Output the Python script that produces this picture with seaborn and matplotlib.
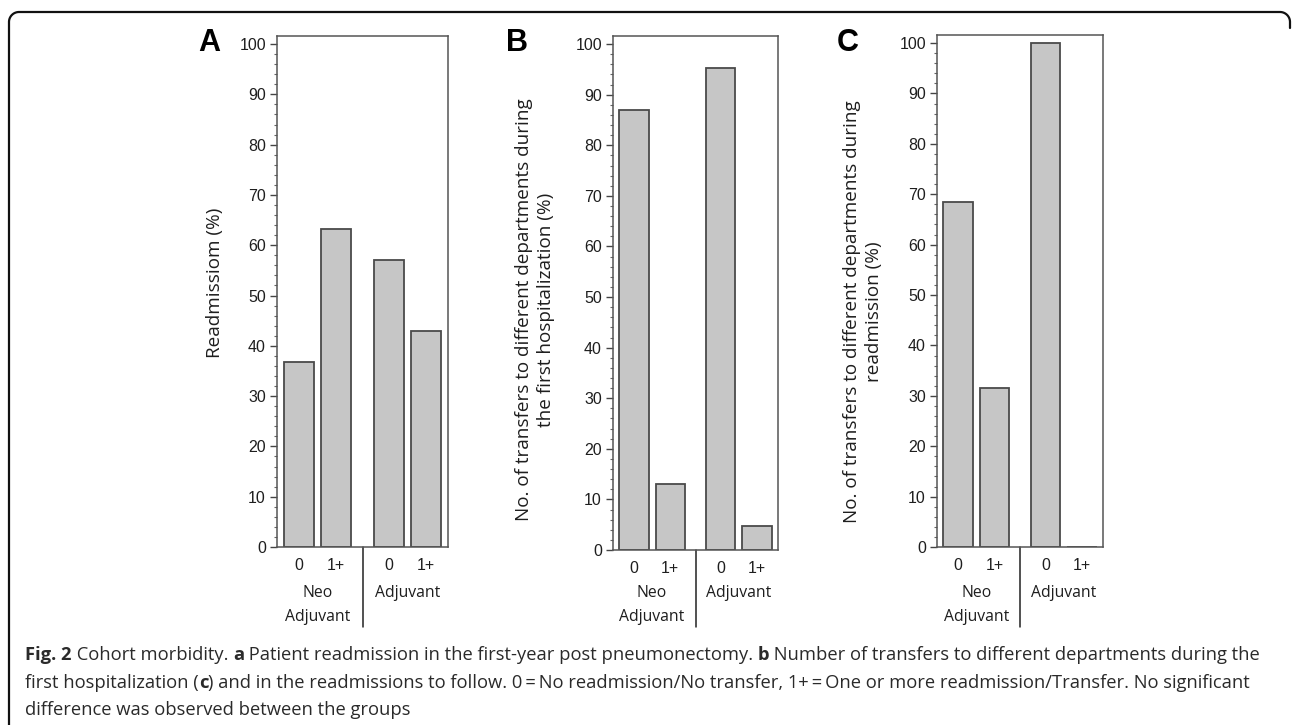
import numpy as np
import pandas as pd
import matplotlib
matplotlib.use("Agg")
import matplotlib.pyplot as plt
import matplotlib.transforms as mtransforms
from matplotlib.ticker import MultipleLocator, AutoMinorLocator
import seaborn as sns

sns.set_style('ticks')
plt.rcParams['font.family'] = ['Liberation Sans', 'DejaVu Sans']

# data (percent)
groups = ['Neo\nAdjuvant', 'Adjuvant']
levels = ['0', '1+']
readmission = [36.7, 63.3, 57.1, 42.9]
transfers_first = [87.0, 13.0, 95.2, 4.8]
transfers_readm = [68.4, 31.6, 100.0, 0.0]

panel_letters = ['A', 'B', 'C']
ylabels = ['Readmissiom (%)',
           'No. of transfers to different departments during\nthe first hospitalization (%)',
           'No. of transfers to different departments during\nreadmission (%)']
caption_lines = [
    [('Fig. 2', True), (' Cohort morbidity. ', False), ('a', True),
     (' Patient readmission in the first-year post pneumonectomy. ', False), ('b', True),
     (' Number of transfers to different departments during the', False)],
    [('first hospitalization (', False), ('c', True),
     (') and in the readmissions to follow. 0\u2009=\u2009No readmission/No transfer, 1+\u2009=\u2009One or more readmission/Transfer. No significant', False)],
    [('difference was observed between the groups', False)],
]

W, H = 1292, 725
fig = plt.figure(figsize=(W / 100, H / 100), dpi=100)

def rect(l, r, t, b):
    return [l / W, 1 - b / H, (r - l) / W, (b - t) / H]

axes_px = [(277, 448, 36, 547), (613, 778, 36, 550), (937, 1103, 35, 547)]
letter_px = [(209, 43), (517, 43), (848, 43)]
ylabel_px = [(215, 283), (535, 310), (863, 312)]

GAP = 2.4  # offset of second group on the x axis
xpos = [g * GAP + i for g in range(len(groups)) for i in range(len(levels))]
HUMAN = ['Open Sans', 'DejaVu Sans']
TXT = '#1e1e1e'

for k, vals in enumerate([readmission, transfers_first, transfers_readm]):
    ax = fig.add_axes(rect(*axes_px[k]))
    df = pd.DataFrame({'x': xpos, 'pct': vals})
    sns.barplot(data=df, x='x', y='pct', native_scale=True, width=0.81,
                color='#c6c6c6', saturation=1, edgecolor='#4a4a4a',
                linewidth=1.3, ax=ax, errorbar=None)
    ax.set_xlim(-0.58, xpos[-1] + 0.58)
    ax.set_ylim(0, 101.6)
    ax.yaxis.set_major_locator(MultipleLocator(10))
    ax.yaxis.set_minor_locator(AutoMinorLocator(5))
    ax.tick_params(axis='y', which='major', length=5, width=1, color='#444',
                   labelsize=11.5, labelcolor=TXT, pad=3)
    ax.tick_params(axis='y', which='minor', length=2.5, width=0.8, color='#666')
    ax.set_xticks(xpos, levels * len(groups))
    ax.tick_params(axis='x', length=0, labelsize=11.5, labelcolor=TXT, pad=8)
    for s in ax.spines.values():
        s.set_color('#555')
        s.set_linewidth(1.1)
    ax.set_xlabel('')
    ax.set_ylabel('')

    # group labels and separator below the axis
    tr = mtransforms.blended_transform_factory(ax.transData, fig.transFigure)
    for g, name in enumerate(groups):
        cx = g * GAP + 0.5
        for j, line in enumerate(name.split('\n')):
            ax.text(cx, 1 - (593 + 24 * j) / H, line, transform=tr, ha='center',
                    va='center', fontsize=11.3, family=HUMAN, color=TXT)
    sep = (xpos[1] + xpos[2]) / 2
    ax.plot([sep, sep], [1 - axes_px[k][3] / H, 1 - 627 / H], transform=tr,
            color='#222', lw=1.1, clip_on=False)

    lx, ly = letter_px[k]
    fig.text(lx / W, 1 - ly / H, panel_letters[k], fontsize=22, fontweight='bold',
             ha='center', va='center', color='black')
    yx, yy = ylabel_px[k]
    fig.text(yx / W, 1 - yy / H, ylabels[k], rotation=90, ha='center', va='center',
             fontsize=13.6, family=HUMAN, color=TXT, linespacing=1.3,
             multialignment='center')

# caption with bold pieces
renderer = fig.canvas.get_renderer()
for i, parts in enumerate(caption_lines):
    x = 25 / W
    y = 1 - (655 + 27.5 * i) / H
    for txt, bold in parts:
        t = fig.text(x, y, txt, fontsize=13.2, family=HUMAN, color='#2a2a2a',
                     fontweight='bold' if bold else 'normal', va='center', ha='left')
        x += t.get_window_extent(renderer).width / W

# border: left side, top edge with rounded corners
r = 10
th = np.linspace(np.pi, np.pi / 2, 20)
left_arc = np.c_[9 + r + r * np.cos(th), 12 + r - r * np.sin(th)]
th2 = np.linspace(np.pi / 2, 0, 20)
right_arc = np.c_[1290 - r + r * np.cos(th2), 12 + r - r * np.sin(th2)]
pts = np.vstack([[[9, H]], left_arc, right_arc, [[1290, 28]]])
fig.add_artist(plt.Line2D(pts[:, 0] / W, 1 - pts[:, 1] / H, color='#111', lw=1.6,
                          transform=fig.transFigure))

fig.savefig('out.png', dpi=100)
